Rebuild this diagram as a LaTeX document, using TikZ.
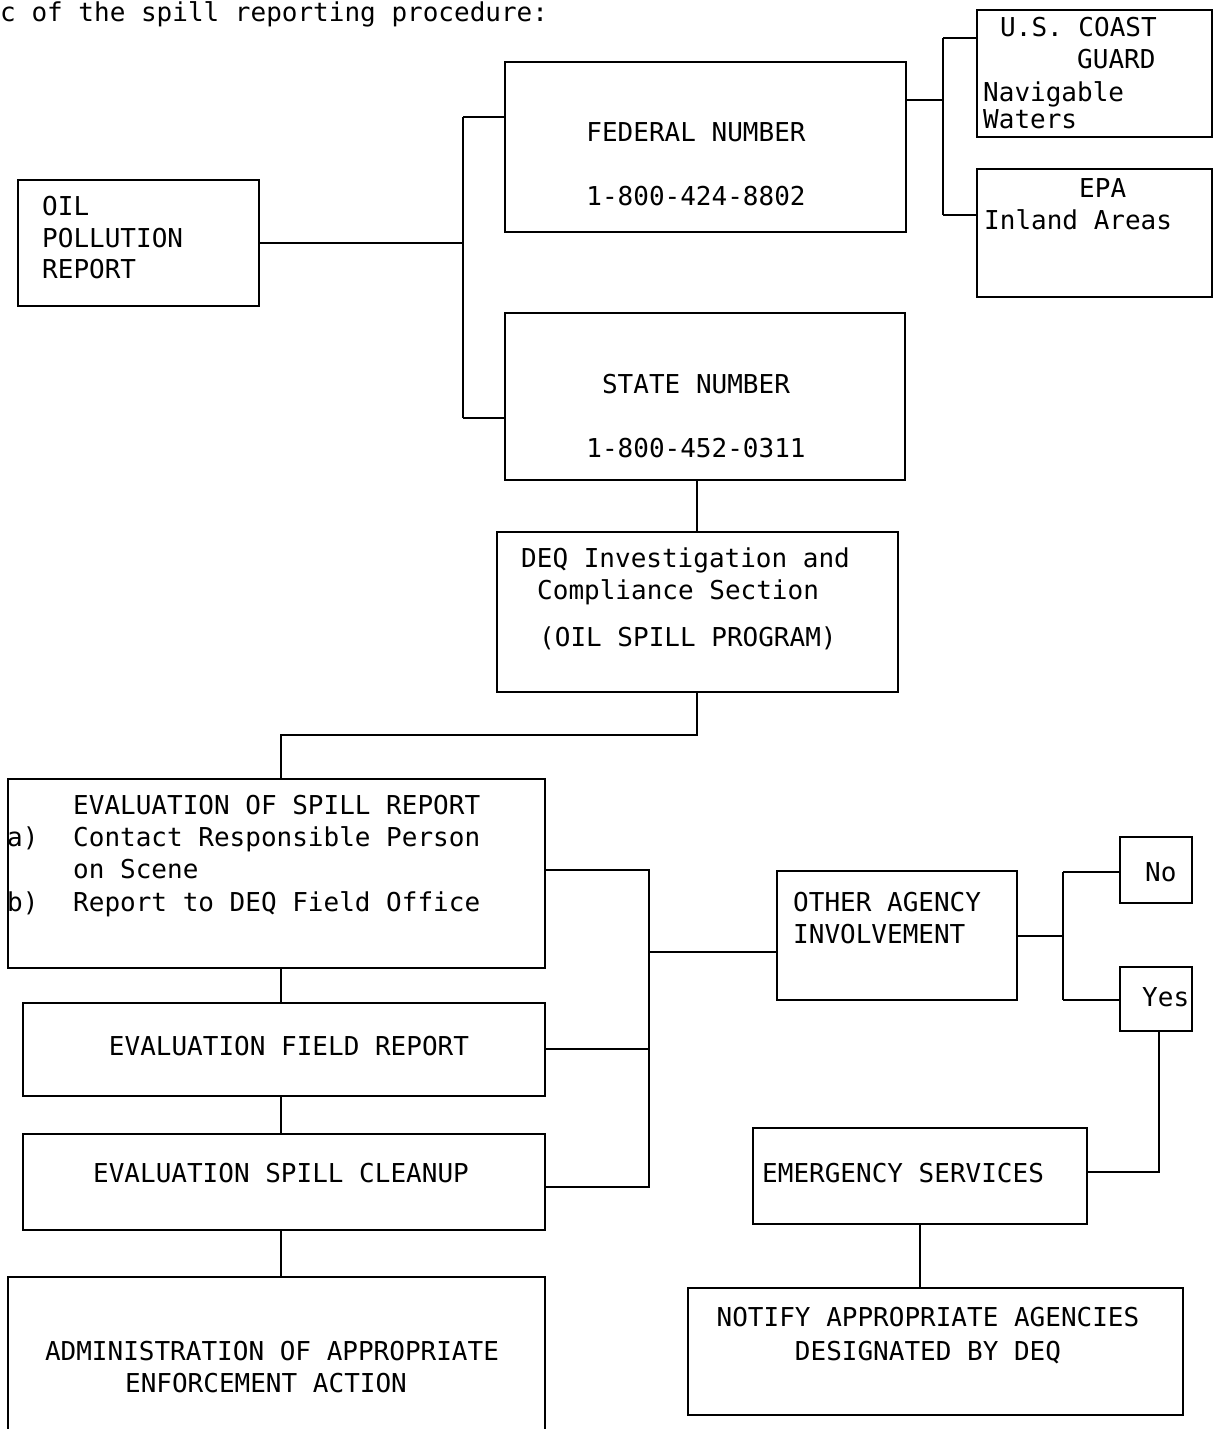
\documentclass[tikz,border=0pt]{standalone}
\usepackage{fontspec}
\newfontfamily\tw{DejaVu Sans Mono}
\usetikzlibrary{fit}
\tikzset{
  box/.style={draw, line width=2.2pt, inner sep=0pt},
  ln/.style={line width=2.2pt},
  txt/.style={font=\tw\fontsize{26}{32}\selectfont, inner sep=0pt},
  lt/.style={txt, anchor=base west},
  ct/.style={txt, anchor=base},
}
\begin{document}
\begin{tikzpicture}[x=1pt,y=-1pt]
\useasboundingbox (0,0) rectangle (1217,1429);
\node[lt] (title) at (0,22) {c of the spill reporting procedure:};

% boxes
\node[box, fit={(18,180) (259,306)}] (oil) {};
\node[box, fit={(505,62) (906,232)}] (fed) {};
\node[box, fit={(977,10) (1212,137)}] (cg) {};
\node[box, fit={(977,169) (1212,297)}] (epa) {};
\node[box, fit={(505,313) (905,480)}] (state) {};
\node[box, fit={(497,532) (898,692)}] (deq) {};
\node[box, fit={(8,779) (545,968)}] (esr) {};
\node[box, fit={(23,1003) (545,1096)}] (efr) {};
\node[box, fit={(23,1134) (545,1230)}] (esc) {};
\node[inner sep=0pt, fit={(8,1277) (545,1429)}] (adm) {};
\draw[ln] (adm.south west) -- (adm.north west) -- (adm.north east) -- (adm.south east);
\node[box, fit={(777,871) (1017,1000)}] (other) {};
\node[box, fit={(1120,837) (1192,903)}] (no) {};
\node[box, fit={(1120,967) (1192,1031)}] (yes) {};
\node[box, fit={(753,1128) (1087,1224)}] (ems) {};
\node[box, fit={(688,1288) (1183,1415)}] (ntf) {};

% texts
\node[lt] (t1) at (42,215) {OIL};
\node[lt] (t2) at (42,247) {POLLUTION};
\node[lt] (t3) at (42,278) {REPORT};
\node[ct] (t4) at (696,141) {FEDERAL NUMBER};
\node[ct] (t5) at (696,205) {1-800-424-8802};
\node[lt] (t6) at (1000,37) {U.S. COAST};
\node[lt] (t7) at (1077,69) {GUARD};
\node[lt] (t8) at (983,101) {Navigable};
\node[lt] (t9) at (983,128) {Waters};
\node[lt] (t10) at (1079,197) {EPA};
\node[lt] (t11) at (984,229) {Inland Areas};
\node[ct] (t12) at (696,393) {STATE NUMBER};
\node[ct] (t13) at (696,457) {1-800-452-0311};
\node[lt] (t14) at (521,567) {DEQ Investigation and};
\node[lt] (t15) at (537,599) {Compliance Section};
\node[lt] (t16) at (539,646) {(OIL SPILL PROGRAM)};
\node[lt] (t17) at (73,814) {EVALUATION OF SPILL REPORT};
\node[lt] (t18a) at (7,846) {a)};
\node[lt] (t18) at (73,846) {Contact Responsible Person};
\node[lt] (t19) at (73,878) {on Scene};
\node[lt] (t20a) at (7,911) {b)};
\node[lt] (t20) at (73,911) {Report to DEQ Field Office};
\node[ct] (t21) at (289,1055) {EVALUATION FIELD REPORT};
\node[ct] (t22) at (281,1182) {EVALUATION SPILL CLEANUP};
\node[ct] (t23) at (272,1360) {ADMINISTRATION OF APPROPRIATE};
\node[ct] (t24) at (266,1392) {ENFORCEMENT ACTION};
\node[lt] (t25) at (793,911) {OTHER AGENCY};
\node[lt] (t26) at (793,943) {INVOLVEMENT};
\node[lt] (t27) at (1145,881) {No};
\node[lt] (t28) at (1142,1006) {Yes};
\node[lt] (t29) at (762,1182) {EMERGENCY SERVICES};
\node[ct] (t30) at (928,1326) {NOTIFY APPROPRIATE AGENCIES};
\node[ct] (t31) at (928,1360) {DESIGNATED BY DEQ};

% junction coordinates
\coordinate (j1t) at (463,117);
\coordinate (j1b) at (463,418);
\coordinate (j2m) at (943,100);
\coordinate (j2t) at (943,38);
\coordinate (j2b) at (943,215);
\coordinate (j3) at (697,735);
\coordinate (j3l) at (281,735);
\coordinate (j4t) at (649,870);
\coordinate (j4e) at (649,1049);
\coordinate (j4b) at (649,1187);
\coordinate (j4m) at (649,952);
\coordinate (j5) at (1063,936);
\coordinate (j5t) at (1063,872);
\coordinate (j5b) at (1063,1000);
\coordinate (j6) at (1159,1172);

% connectors
\draw[ln] (oil.east) -- (oil.east -| j1t);
\draw[ln] (j1t) -- (j1b);
\draw[ln] (j1t) -- (fed.west |- j1t);
\draw[ln] (j1b) -- (state.west |- j1b);
\draw[ln] (fed.east |- j2m) -- (j2m);
\draw[ln] (j2t) -- (j2b);
\draw[ln] (j2t) -- (cg.west |- j2t);
\draw[ln] (j2b) -- (epa.west |- j2b);
\draw[ln] (state.south -| j3) -- (deq.north -| j3);
\draw[ln] (deq.south -| j3) -- (j3) -- (j3l) -- (esr.north -| j3l);
\draw[ln] (esr.south -| j3l) -- (efr.north -| j3l);
\draw[ln] (efr.south -| j3l) -- (esc.north -| j3l);
\draw[ln] (esc.south -| j3l) -- (adm.north -| j3l);
\draw[ln] (esr.east |- j4t) -- (j4t) -- (j4b) -- (esc.east |- j4b);
\draw[ln] (efr.east |- j4e) -- (j4e);
\draw[ln] (j4m) -- (other.west |- j4m);
\draw[ln] (other.east |- j5) -- (j5);
\draw[ln] (j5t) -- (j5b);
\draw[ln] (j5t) -- (no.west |- j5t);
\draw[ln] (j5b) -- (yes.west |- j5b);
\draw[ln] (yes.south -| j6) -- (j6) -- (ems.east |- j6);
\draw[ln] (ems.south) -- (ems.south |- ntf.north);
\end{tikzpicture}
\end{document}
